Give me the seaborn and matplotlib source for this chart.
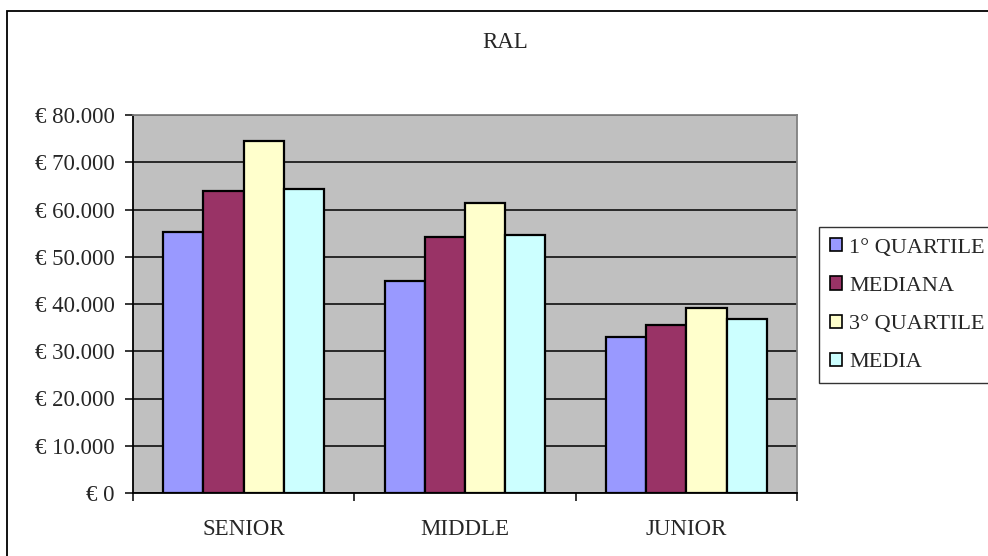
import matplotlib
matplotlib.use("Agg")
import matplotlib.pyplot as plt
import matplotlib.patches as mpatches
from matplotlib.ticker import FuncFormatter, FixedLocator
import pandas as pd
import seaborn as sns

# ── Data ──────────────────────────────────────────────────────────────────────
LIVELLI = ["SENIOR", "MIDDLE", "JUNIOR"]
SERIE = ["1° QUARTILE", "MEDIANA", "3° QUARTILE", "MEDIA"]
PRIMO_QUARTILE = [55300, 44900, 32950]
MEDIANA = [64000, 54100, 35500]
TERZO_QUARTILE = [74400, 61300, 39200]
MEDIA = [64300, 54500, 36750]
Y_TICKS = [0, 10000, 20000, 30000, 40000, 50000, 60000, 70000, 80000]

COLORS = ["#9999FF", "#993366", "#FFFFCC", "#CCFFFF"]

df = pd.DataFrame({
    "livello": LIVELLI * 4,
    "statistica": [s for s in SERIE for _ in LIVELLI],
    "ral": PRIMO_QUARTILE + MEDIANA + TERZO_QUARTILE + MEDIA,
})

# ── Style ─────────────────────────────────────────────────────────────────────
sns.set_style("white")
plt.rcParams["font.family"] = ["Liberation Serif", "DejaVu Serif"]
FS = 16.5

fig = plt.figure(figsize=(9.88, 5.56), dpi=100)
ax = fig.add_axes([133 / 988, 1 - 493 / 556, (797 - 133) / 988, (493 - 115) / 556])
ax.set_facecolor("#C0C0C0")

sns.barplot(data=df, x="livello", y="ral", hue="statistica", order=LIVELLI,
            hue_order=SERIE, palette=COLORS, edgecolor="black", linewidth=1.6,
            width=4 / 5.5, saturation=1, legend=False, ax=ax)

ax.set_xlim(-0.5, 2.5)
ax.set_ylim(0, 80000)
ax.yaxis.set_major_locator(FixedLocator(Y_TICKS))
ax.yaxis.set_major_formatter(FuncFormatter(
    lambda v, _: "€ " + f"{int(v):,}".replace(",", ".")))
ax.grid(axis="y", color="black", linewidth=1.1)
ax.set_axisbelow(True)
ax.set_xlabel("")
ax.set_ylabel("")

ax.tick_params(axis="y", direction="out", length=6, width=1.1, pad=7,
               labelsize=FS, left=True, color="black")
ax.tick_params(axis="x", which="major", length=0, pad=19, labelsize=FS)
ax.set_xticks([-0.5, 0.5, 1.5, 2.5], minor=True)
ax.tick_params(axis="x", which="minor", direction="out", length=6, width=1.1,
               bottom=True, color="black")

for side in ("left", "bottom"):
    ax.spines[side].set_color("black")
    ax.spines[side].set_linewidth(1.3)
for side in ("top", "right"):
    ax.spines[side].set_visible(True)
    ax.spines[side].set_color("#808080")
    ax.spines[side].set_linewidth(1.3)

# ── Title & legend ────────────────────────────────────────────────────────────
fig.text(505 / 988, 1 - 42 / 556, "RAL", ha="center", va="center", fontsize=FS)

handles = [mpatches.Patch(facecolor=c, edgecolor="black", linewidth=1.2, label=s)
           for c, s in zip(COLORS, SERIE)]
leg = fig.legend(handles=handles, loc="upper left",
                 bbox_to_anchor=(819 / 988, 1 - 227 / 556), fontsize=16,
                 frameon=True, fancybox=False, borderpad=0.5, labelspacing=0.84,
                 handlelength=0.55, handleheight=0.55, handletextpad=0.3,
                 borderaxespad=0)
leg.get_frame().set_edgecolor("black")
leg.get_frame().set_linewidth(1.0)

# chart area border (right and bottom edges fall outside the image)
fig.patches.append(mpatches.Rectangle((7 / 988, -0.2), 2, 1.2 - 11 / 556,
                                      transform=fig.transFigure, fill=False,
                                      edgecolor="black", linewidth=1.3))

fig.savefig("out.png", dpi=100)
plt.close(fig)
